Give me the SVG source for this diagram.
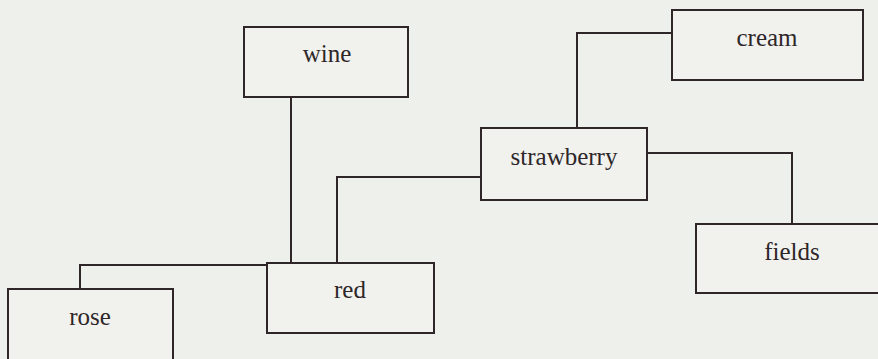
<svg xmlns="http://www.w3.org/2000/svg" width="878" height="359" viewBox="0 0 878 359">
<style>
.box{fill:#f1f2ee;stroke:#2e2629;stroke-width:2}
.lbl{font-family:"Liberation Serif","Times New Roman",serif;font-size:25px;fill:#2e2629;text-anchor:middle}
.con{fill:none;stroke:#2e2629;stroke-width:2}
</style>
<rect x="0" y="0" width="878" height="359" fill="#eef0ec"/>
<g id="connectors">
<polyline class="con" points="291,97 291,263"/>
<polyline class="con" points="337,263 337,177 481,177"/>
<polyline class="con" points="577,128 577,33 672,33"/>
<polyline class="con" points="647,153 792,153 792,224"/>
<polyline class="con" points="80,289 80,265 267,265"/>
</g>
<g id="wine"><rect class="box" x="244" y="27" width="164" height="70"/><text class="lbl" x="327" y="62">wine</text></g>
<g id="cream"><rect class="box" x="672" y="10" width="191" height="70"/><text class="lbl" x="767" y="46">cream</text></g>
<g id="strawberry"><rect class="box" x="481" y="128" width="166" height="72"/><text class="lbl" x="564" y="165">strawberry</text></g>
<g id="fields"><rect class="box" x="696" y="224" width="190" height="69"/><text class="lbl" x="792" y="260">fields</text></g>
<g id="red"><rect class="box" x="267" y="263" width="167" height="70"/><text class="lbl" x="350" y="298">red</text></g>
<g id="rose"><rect class="box" x="8" y="289" width="165" height="80"/><text class="lbl" x="90" y="325">rose</text></g>
</svg>
